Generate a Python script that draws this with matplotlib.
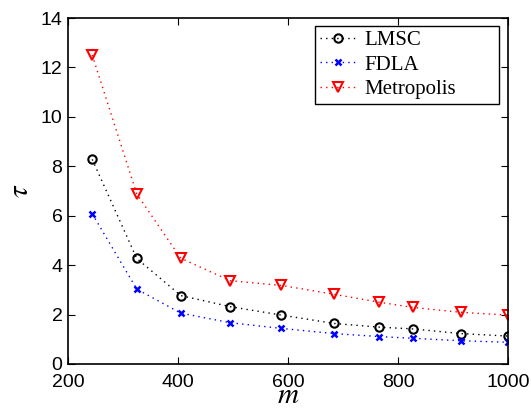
import matplotlib
matplotlib.use("Agg")
import matplotlib.pyplot as plt

plt.rcParams['font.family'] = ['Liberation Sans', 'DejaVu Sans']
plt.rcParams['mathtext.fontset'] = 'stix'

m = [244, 325, 405, 495, 588, 684, 766, 827, 915, 1000]
lmsc = [8.28, 4.27, 2.77, 2.32, 1.98, 1.64, 1.49, 1.42, 1.23, 1.13]
fdla = [6.08, 3.03, 2.06, 1.67, 1.44, 1.23, 1.11, 1.04, 0.94, 0.88]
metro = [12.5, 6.88, 4.28, 3.37, 3.18, 2.82, 2.50, 2.29, 2.09, 1.98]
xticks = [200, 400, 600, 800, 1000]
yticks = [0, 2, 4, 6, 8, 10, 12, 14]

fig = plt.figure(figsize=(5.31, 4.08), dpi=100)
ax = fig.add_axes([68/531, 1-364/408, 440/531, 346/408])

ls = (0, (1, 3))
ax.plot(m, lmsc, linestyle=ls, color='black', marker='o', markersize=6, markerfacecolor='none',
        markeredgewidth=1.5, linewidth=1, label='LMSC')
ax.plot(m, fdla, linestyle=ls, color='blue', marker='x', markersize=4.5, markeredgewidth=1.8,
        linewidth=1, label='FDLA')
ax.plot(m, metro, linestyle=ls, color='red', marker='v', markersize=7.5, markerfacecolor='none',
        markeredgewidth=1.5, linewidth=1, label='Metropolis')

ax.set_xlim(200, 1000)
ax.set_ylim(0, 14)
ax.set_xticks(xticks)
ax.set_yticks(yticks)
ax.tick_params(direction='in', top=True, right=True, labelsize=14, length=5, width=0.8)
ax.tick_params(axis='x', pad=7)
ax.tick_params(axis='y', pad=4)
for s in ax.spines.values():
    s.set_linewidth(1.2)
ax.set_xlabel('$m$', fontsize=21, labelpad=-7)
ax.set_ylabel(r'$\tau$', fontsize=21, labelpad=5)

x0 = (315 - 68) / 440
x1 = (499 - 68) / 440
y1 = (364 - 25.7) / 346
leg = ax.legend(loc='upper left', bbox_to_anchor=(x0, y1 - 0.3, x1 - x0, 0.3), mode='expand',
                borderaxespad=0, prop={'family': ['Liberation Serif'], 'size': 15},
                frameon=True, fancybox=False, edgecolor='black', framealpha=1,
                handlelength=1.7, handletextpad=0.4, labelspacing=0.22, borderpad=0.25)
leg.get_frame().set_linewidth(1.0)

fig.savefig('out.png', dpi=100)
